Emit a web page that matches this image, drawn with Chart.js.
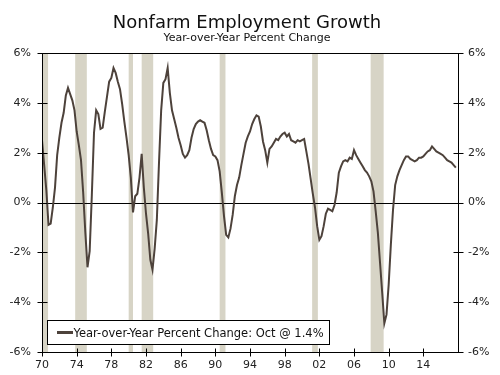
<!DOCTYPE html>
<html><head><meta charset="utf-8">
<script src="https://cdn.jsdelivr.net/npm/chart.js@4"></script>
<style>html,body{margin:0;padding:0;background:#fff}</style>
</head><body>
<canvas id="c" width="500" height="375"></canvas>
<script>
// ---- data (quarterly, Jan/Apr/Jul/Oct, starting Jan 1970) ----
const startYear = 1970;
const values = [
  2.5, 1.5, 0.5, -0.9,     // 1970
  -0.85, -0.2, 0.6, 1.9,   // 1971
  2.6, 3.2, 3.6, 4.3,      // 1972
  4.6, 4.35, 4.1, 3.7,     // 1973
  2.85, 2.3, 1.7, 0.4,     // 1974
  -1.2, -2.6, -1.95, 0.3,  // 1975
  2.8, 3.7, 3.55, 2.95,    // 1976
  3.0, 3.65, 4.25, 4.85,   // 1977
  5.0, 5.4, 5.2, 4.85,     // 1978
  4.55, 3.95, 3.25, 2.6,   // 1979
  1.9, 1.0, -0.4, 0.25,    // 1980
  0.35, 1.0, 1.95, 0.6,    // 1981
  -0.45, -1.25, -2.3, -2.7,// 1982
  -1.85, -0.7, 1.6, 3.7,   // 1983
  4.8, 4.95, 5.4, 4.4,     // 1984
  3.7, 3.35, 3.0, 2.6,     // 1985
  2.3, 1.95, 1.8, 1.9,     // 1986
  2.1, 2.6, 2.95, 3.15,    // 1987
  3.25, 3.3, 3.25, 3.2,    // 1988
  2.9, 2.5, 2.15, 1.9,     // 1989
  1.85, 1.7, 1.25, 0.4,    // 1990
  -0.55, -1.3, -1.4, -1.05,// 1991
  -0.5, 0.25, 0.7, 1.0,    // 1992
  1.5, 1.95, 2.4, 2.65,    // 1993
  2.85, 3.15, 3.35, 3.5,   // 1994
  3.45, 3.05, 2.45, 2.1,   // 1995
  1.6, 2.15, 2.25, 2.4,    // 1996
  2.55, 2.5, 2.65, 2.75,   // 1997
  2.8, 2.65, 2.75, 2.5,    // 1998
  2.45, 2.4, 2.5, 2.45,    // 1999
  2.5, 2.55, 2.05, 1.55,   // 2000
  0.95, 0.35, -0.2, -0.95, // 2001
  -1.5, -1.35, -0.95, -0.45,// 2002
  -0.25, -0.3, -0.35, -0.1,// 2003
  0.4, 1.2, 1.45, 1.65,    // 2004
  1.7, 1.65, 1.8, 1.75,    // 2005
  2.1, 1.9, 1.75, 1.6,     // 2006
  1.45, 1.3, 1.2, 1.05,    // 2007
  0.85, 0.45, -0.35, -1.2, // 2008
  -2.4, -3.6, -4.85, -4.5, // 2009
  -3.3, -1.7, -0.3, 0.7,   // 2010
  1.05, 1.3, 1.5, 1.7,     // 2011
  1.85, 1.85, 1.75, 1.7,   // 2012
  1.65, 1.7, 1.8, 1.8,     // 2013
  1.85, 1.95, 2.05, 2.1,   // 2014
  2.25, 2.15, 2.05, 2.0,   // 2015
  1.95, 1.9, 1.8, 1.7,     // 2016
  1.65, 1.6, 1.5, 1.4      // 2017
];
const xTickYears = [1970, 1974, 1978, 1982, 1986, 1990, 1994, 1998, 2002, 2006, 2010, 2014];
const yTicks = [-6, -4, -2, 0, 2, 4, 6];
const recessionStarts = [1969.92, 1973.83, 1980.0, 1981.5, 1990.5, 2001.17, 2007.92];
const recessionEnds   = [1970.7, 1975.17, 1980.5, 1982.83, 1991.17, 2001.83, 2009.42];
const titleText = 'Nonfarm Employment Growth';
const subtitleText = 'Year-over-Year Percent Change';
const seriesLabel = 'Year-over-Year Percent Change: Oct @ 1.4%';

const FONT = 'DejaVu Sans';
const points = values.map((v, i) => ({ x: startYear + i / 4, y: v }));

const px = v => Math.round(v) + 0.5;

const backdrop = {
  id: 'backdrop',
  beforeDatasetsDraw(chart) {
    const { ctx, chartArea: a, scales } = chart;
    ctx.save();
    ctx.beginPath(); ctx.rect(a.left, a.top, a.right - a.left, a.bottom - a.top); ctx.clip();
    ctx.fillStyle = '#d7d4c6';
    recessionStarts.forEach((s, i) => {
      const x0 = scales.x.getPixelForValue(s), x1 = scales.x.getPixelForValue(recessionEnds[i]);
      ctx.fillRect(x0, a.top, x1 - x0, a.bottom - a.top);
    });
    ctx.restore();
    ctx.save();
    ctx.strokeStyle = '#000'; ctx.lineWidth = 1;
    const y0 = px(scales.y.getPixelForValue(0));
    ctx.beginPath(); ctx.moveTo(a.left, y0); ctx.lineTo(a.right, y0); ctx.stroke();
    ctx.restore();
  }
};

const frame = {
  id: 'frame',
  afterDatasetsDraw(chart) {
    const { ctx, chartArea: a, scales } = chart;
    ctx.save();
    ctx.strokeStyle = '#000'; ctx.lineWidth = 1;
    const L = px(a.left), R = px(a.right), T = px(a.top), B = px(a.bottom);
    ctx.beginPath();
    ctx.moveTo(L, T); ctx.lineTo(R, T);
    ctx.moveTo(L, T); ctx.lineTo(L, B);
    ctx.moveTo(R, T); ctx.lineTo(R, B);
    ctx.moveTo(L, B); ctx.lineTo(R, B);
    yTicks.forEach(v => {
      const y = px(scales.y.getPixelForValue(v));
      ctx.moveTo(L - 5, y); ctx.lineTo(L + 5, y);
      ctx.moveTo(R - 5, y); ctx.lineTo(R + 5, y);
    });
    xTickYears.forEach(v => {
      const x = px(scales.x.getPixelForValue(v));
      ctx.moveTo(x, B - 4); ctx.lineTo(x, B + 4);
    });
    ctx.stroke();

    // legend box
    ctx.fillStyle = '#fff';
    ctx.fillRect(48, 321, 282, 23);
    ctx.strokeRect(47.5, 320.5, 282, 24);
    ctx.strokeStyle = chart.data.datasets[0].borderColor;
    ctx.lineWidth = 3;
    ctx.beginPath(); ctx.moveTo(57, 332.5); ctx.lineTo(73, 332.5); ctx.stroke();
    ctx.fillStyle = '#111';
    ctx.font = '11.5px "' + FONT + '"';
    ctx.textAlign = 'left'; ctx.textBaseline = 'alphabetic';
    ctx.fillText(chart.data.datasets[0].label, 73.5, 337);

    // titles
    ctx.textAlign = 'center';
    ctx.fillStyle = '#111';
    ctx.font = '18px "' + FONT + '"';
    ctx.fillText(titleText, 247, 27.5);
    ctx.font = '11px "' + FONT + '"';
    ctx.fillText(subtitleText, 247, 41);
    ctx.restore();
  }
};

const tickFont = { family: FONT, size: 11 };
const yAxis = (pos, pad) => ({
  type: 'linear', position: pos, min: -6, max: 6,
  afterBuildTicks: s => { s.ticks = yTicks.map(v => ({ value: v })); },
  ticks: { callback: v => v + '%', font: tickFont, color: '#222', padding: pad },
  grid: { display: false, drawTicks: false }, border: { display: false },
  afterFit: s => { s.width = 42; }
});

new Chart(document.getElementById('c'), {
  type: 'line',
  data: {
    datasets: [{
      label: seriesLabel, data: points, yAxisID: 'y',
      borderColor: '#4d423b', borderWidth: 2, pointRadius: 0, tension: 0, fill: false
    }]
  },
  options: {
    responsive: false, animation: false, devicePixelRatio: 1,
    layout: { padding: { top: 53, left: 0, right: 0, bottom: 0 } },
    plugins: { legend: { display: false }, title: { display: false }, tooltip: { enabled: false } },
    scales: {
      x: {
        type: 'linear', min: 1970, max: 2018,
        afterBuildTicks: s => { s.ticks = xTickYears.map(v => ({ value: v })); },
        ticks: { callback: v => String(v % 100).padStart(2, '0'), font: tickFont, color: '#222', padding: 7, maxRotation: 0, autoSkip: false },
        grid: { display: false, drawTicks: false }, border: { display: false },
        afterFit: s => { s.height = 23; }
      },
      y: yAxis('left', 11),
      y2: yAxis('right', 10)
    }
  },
  plugins: [backdrop, frame]
});
</script>
</body></html>
